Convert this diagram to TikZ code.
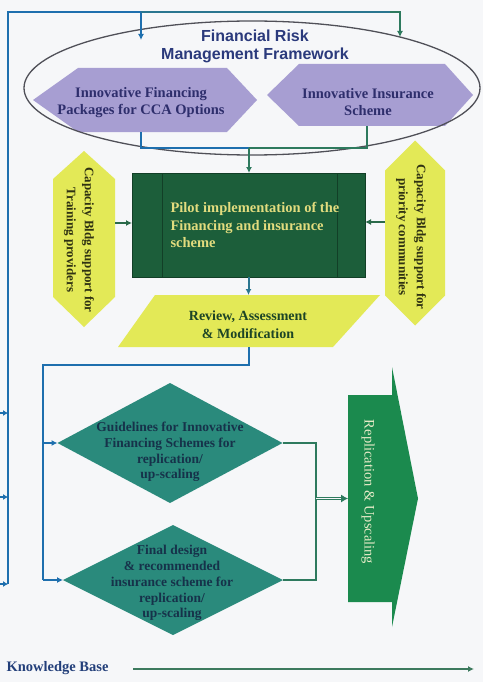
\documentclass[tikz,border=0pt]{standalone}
\usepackage{fontspec}
\setmainfont{Liberation Serif}
\newfontfamily\titlefont{Liberation Sans}
\usetikzlibrary{arrows.meta,shapes.geometric,backgrounds}
\definecolor{bgc}{HTML}{F6F7F9}
\definecolor{blueln}{HTML}{1E6FAE}
\definecolor{greenln}{HTML}{2E7A5E}
\definecolor{tealln}{HTML}{2A7690}
\definecolor{darkln}{HTML}{2A6A4A}
\definecolor{ellc}{HTML}{505058}
\definecolor{titlec}{HTML}{2B3A7C}
\definecolor{lavfill}{HTML}{A79ED2}
\definecolor{lavtext}{HTML}{2E2E6C}
\definecolor{pilotfill}{HTML}{1C5E3A}
\definecolor{pilotline}{HTML}{123F27}
\definecolor{pilottext}{HTML}{E2DC7E}
\definecolor{yelfill}{HTML}{E3E957}
\definecolor{yeltext}{HTML}{2F3212}
\definecolor{revtext}{HTML}{1D4526}
\definecolor{diafill}{HTML}{2A8A7C}
\definecolor{diatext}{HTML}{16324A}
\definecolor{replfill}{HTML}{1B8A4E}
\definecolor{repltext}{HTML}{E6EBC8}
\definecolor{kbtext}{HTML}{233F7A}
\definecolor{kbline}{HTML}{3D7A5E}
\begin{document}
\begin{tikzpicture}[x=1pt,y=-1pt,
  frame/.style={inner sep=0pt, outer sep=0pt},
  tip/.style={-{Latex[length=6pt,width=6pt]}},
  bline/.style={draw=blueln, line width=2pt},
  gline/.style={draw=greenln, line width=2pt},
  tline/.style={draw=tealln, line width=2pt},
  dline/.style={draw=darkln, line width=2pt},
  titlest/.style={align=center, text=titlec, font=\titlefont\bfseries\fontsize{16}{18}\selectfont},
  lavtxt/.style={align=center, text=lavtext, font=\bfseries\fontsize{14.5}{17}\selectfont},
  pilottxt/.style={align=left, text=pilottext, font=\bfseries\fontsize{14.5}{17.5}\selectfont},
  captxt/.style={align=center, text=yeltext, font=\bfseries\fontsize{13}{18}\selectfont},
  revtxt/.style={align=center, text=revtext, font=\bfseries\fontsize{14}{18}\selectfont},
  diatxt/.style={align=center, text=diatext, font=\bfseries\fontsize{13.5}{15.8}\selectfont},
  repltxt/.style={text=repltext, font=\fontsize{14.5}{17}\selectfont},
  kbtxt/.style={text=kbtext, font=\bfseries\fontsize{14.5}{17}\selectfont}
]
\useasboundingbox (0,0) rectangle (483,682);
\begin{scope}[on background layer]
  \fill[bgc] (0,0) rectangle (483,682);
\end{scope}

% nodes
\node[frame, ellipse, draw=ellc, line width=1.3pt, minimum width=456pt, minimum height=134pt] (frm) at (252,88) {};
\node[titlest] (title) at (255,46) {Financial Risk\\Management Framework};
\node[frame, minimum width=224pt, minimum height=64pt] (lhex) at (145,100) {};
\node[lavtxt] (lhextxt) at (141,102.5) {Innovative Financing\\Packages for CCA Options};
\node[frame, minimum width=206pt, minimum height=62pt] (rhex) at (370,95) {};
\node[lavtxt] (rhextxt) at (368,102.5) {Innovative Insurance\\Scheme};

\node[frame, fill=pilotfill, draw=pilotline, line width=.8pt, minimum width=233pt, minimum height=104pt] (pilot) at (248.5,225) {};
\draw[pilotline, line width=.6pt] ([xshift=30pt]pilot.north west) -- ([xshift=30pt]pilot.south west);
\draw[pilotline, line width=.6pt] ([xshift=-28pt]pilot.north east) -- ([xshift=-28pt]pilot.south east);
\node[pilottxt, anchor=west] (pilottxt) at (167,225) {Pilot implementation of the\\Financing and insurance\\scheme};

\node[frame, minimum width=62pt, minimum height=176pt] (lcap) at (84,239) {};
\node[captxt, rotate=-90] (lcaptxt) at (79,240) {Capacity Bldg support for\\Training providers};
\node[frame, minimum width=60pt, minimum height=185pt] (rcap) at (415,233) {};
\node[captxt, rotate=-90] (rcaptxt) at (411,237) {Capacity Bldg support for\\priority communities};

\node[frame, minimum width=262pt, minimum height=52pt] (review) at (249,321) {};
\node[revtxt] (reviewtxt) at (248,324.5) {Review, Assessment\\\& Modification};

\node[frame, minimum width=225pt, minimum height=120pt] (d1) at (170,443) {};
\node[diatxt] (d1txt) at (170,452) {Guidelines for Innovative\\Financing Schemes for\\replication/\\up-scaling};
\node[frame, minimum width=220pt, minimum height=110pt] (d2) at (173,580) {};
\node[diatxt] (d2txt) at (172,583) {Final design\\\& recommended\\insurance scheme for\\replication/\\up-scaling};

\node[frame, minimum width=44pt, minimum height=207pt] (repl) at (370,498.5) {};
\node[repltxt, rotate=-90] (repltxt) at (368,492) {Replication \& Upscaling};

\node[kbtxt, anchor=west] (kb) at (3,668) {Knowledge Base};

% shape fills
\begin{scope}[on background layer]
  \fill[lavfill] (lhex.west) -- ([xshift=45pt]lhex.north west) -- ([xshift=-30pt]lhex.north east) -- (lhex.east) -- ([xshift=-30pt]lhex.south east) -- ([xshift=45pt]lhex.south west) -- cycle;
  \fill[lavfill] (rhex.west) -- ([xshift=32pt]rhex.north west) -- ([xshift=-28pt]rhex.north east) -- (rhex.east) -- ([xshift=-28pt]rhex.south east) -- ([xshift=32pt]rhex.south west) -- cycle;
  \fill[yelfill] (lcap.north) -- ([yshift=-28pt]lcap.north east) -- ([yshift=30pt]lcap.south east) -- (lcap.south) -- ([yshift=30pt]lcap.south west) -- ([yshift=-28pt]lcap.north west) -- cycle;
  \fill[yelfill] (rcap.north) -- ([yshift=-30pt]rcap.north east) -- ([yshift=30pt]rcap.south east) -- (rcap.south) -- ([yshift=30pt]rcap.south west) -- ([yshift=-30pt]rcap.north west) -- cycle;
  \fill[yelfill] ([xshift=37pt]review.north west) -- (review.north east) -- ([xshift=-47pt]review.south east) -- (review.south west) -- cycle;
  \fill[diafill] (d1.west) -- (d1.north) -- (d1.east) -- (d1.south) -- cycle;
  \fill[diafill] (d2.west) -- (d2.north) -- (d2.east) -- (d2.south) -- cycle;
  \fill[replfill] (repl.north west) -- (repl.north east) -- ([yshift=28pt]repl.north east) -- ([xshift=26pt]repl.east) -- ([yshift=-25pt]repl.south east) -- (repl.south east) -- (repl.south west) -- cycle;
\end{scope}

% connectors
\coordinate (otop) at (8,12);
\coordinate (obot) at (8,584);
\coordinate (t1) at (141,12);
\coordinate (t2) at (400,12);
\coordinate (a1) at (141,40);
\coordinate (a2) at (400,37);
\draw[bline, line join=miter] (obot) -- (otop) -- (t1);
\draw[bline, tip] (t1) -- (a1);
\draw[tline] (t1) -- (t2);
\draw[gline, line join=miter] ([xshift=-10pt]t2) -- (t2) -- ([yshift=-1pt]t2);
\draw[gline, tip] (t2) -- (a2);

\coordinate (e1) at (0,413);
\coordinate (e2) at (0,497);
\coordinate (e3) at (0,584);
\draw[bline, -{Latex[length=5pt,width=6pt]}] (e1) -- (e1 -| otop);
\draw[bline, -{Latex[length=5pt,width=6pt]}] (e2) -- (e2 -| otop);
\draw[bline, -{Latex[length=5pt,width=6pt]}] (e3) -- (e3 -| otop);

\coordinate (j) at (249,148);
\draw[bline] ([xshift=-4pt]lhex.south) |- (j);
\draw[gline] ([xshift=-3pt]rhex.south) |- (j);
\draw[gline, tip] (j) -- (j |- pilot.north);

\coordinate (la) at (115,223);
\coordinate (ra) at (385,222);
\draw[dline, tip] (la) -- (la -| pilot.west);
\draw[dline, tip] (ra) -- (ra -| pilot.east);

\draw[tline, tip] (pilot.south) -- (pilot.south |- review.north);

\coordinate (lt) at (43,365);
\coordinate (lb) at (43,580);
\draw[bline] (review.south) |- (lt) -- (lb);
\draw[bline, tip] (lb) -- (d2.west);
\draw[bline, tip] (lt |- d1.west) -- (d1.west);

\coordinate (rj) at (316,498.5);
\draw[gline] (d1.east) -| (rj);
\draw[gline] (d2.east) -| (rj);
\draw[draw=greenln, line width=0.9pt, double=bgc, double distance=1.6pt, -{Latex[length=7pt,width=8pt]}] (rj) -- (rj -| repl.west);

\coordinate (kbs) at (133,669);
\coordinate (kbe) at (474,669);
\draw[draw=kbline, line width=2pt, tip] (kbs) -- (kbe);
\end{tikzpicture}
\end{document}
